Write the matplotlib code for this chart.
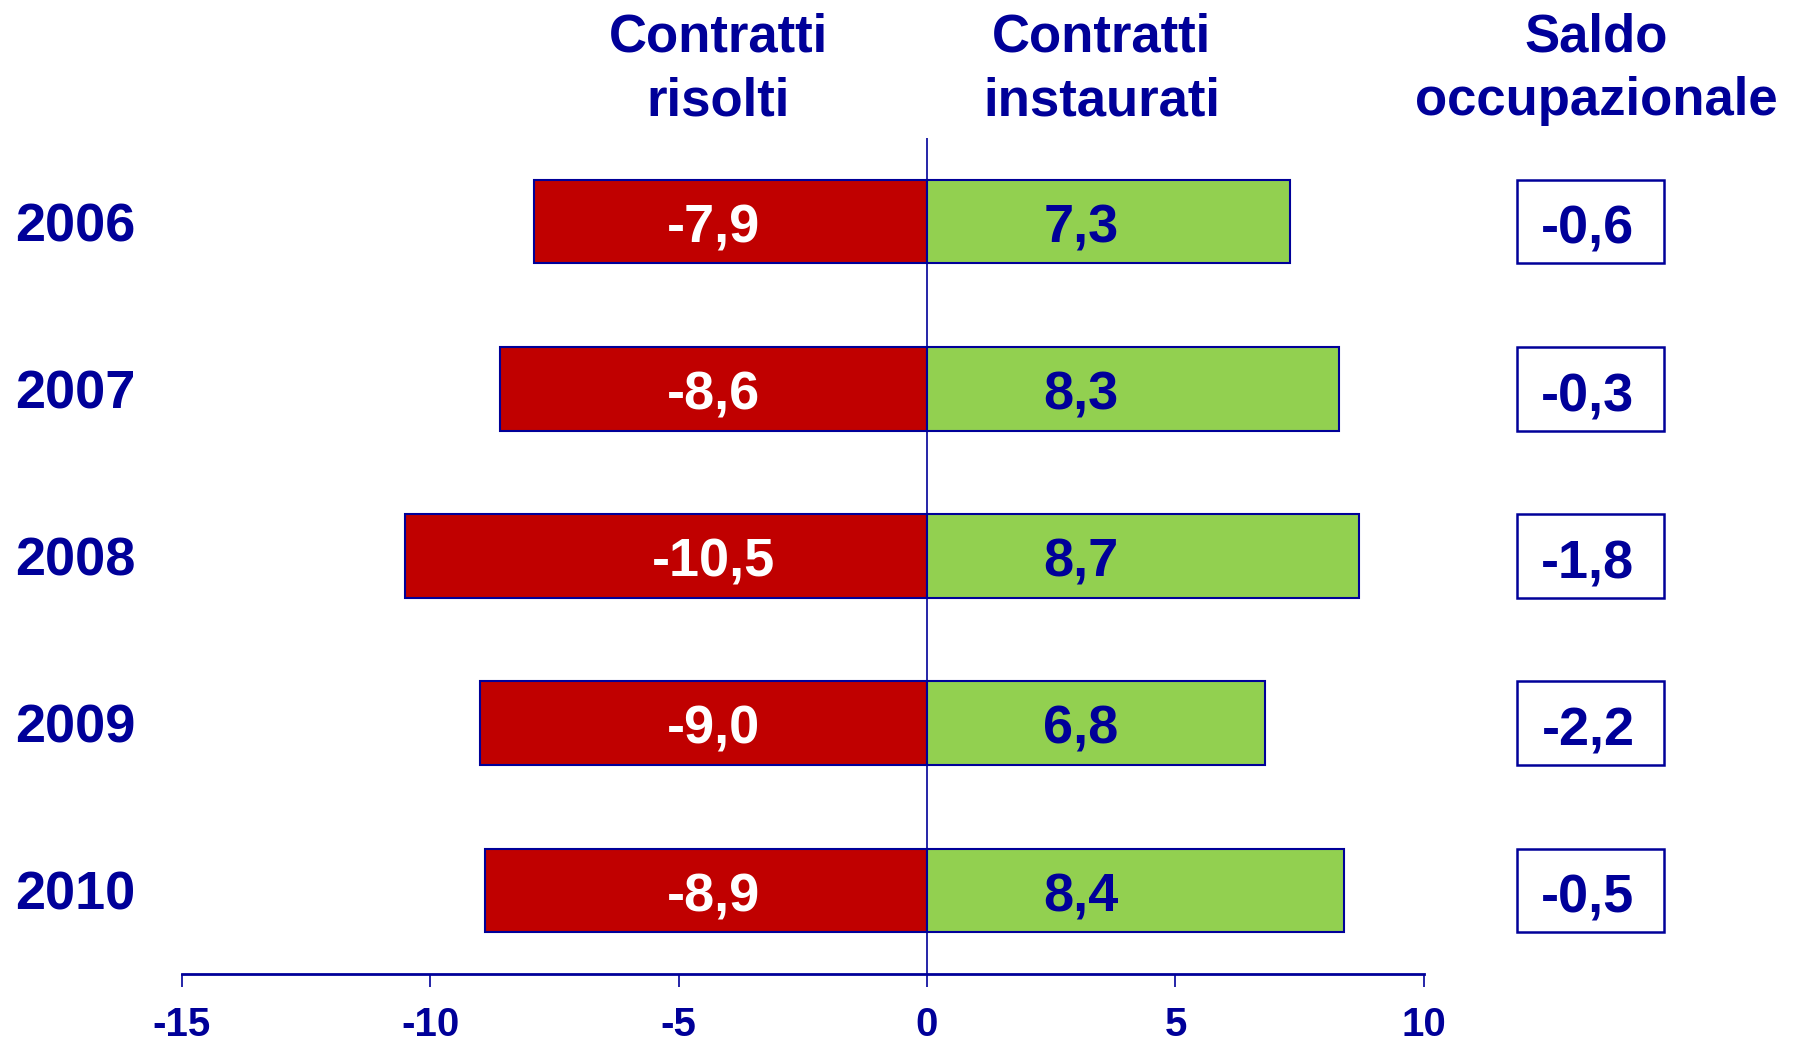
import matplotlib.pyplot as plt
from matplotlib.patches import Rectangle

plt.rcParams['font.family'] = ['Liberation Sans', 'DejaVu Sans']
plt.rcParams['font.weight'] = 'bold'

anni = ['2006', '2007', '2008', '2009', '2010']
risolti = [-7.9, -8.6, -10.5, -9.0, -8.9]
instaurati = [7.3, 8.3, 8.7, 6.8, 8.4]
saldo = [-0.6, -0.3, -1.8, -2.2, -0.5]

blu = '#000099'
rosso = '#C00000'
verde = '#92D050'


def fmt(v):
	return ('%.1f' % v).replace('.', ',')


fig = plt.figure(figsize=(18.02, 10.42), dpi=100)
ax = fig.add_axes([0.1008, 0.0653, 0.6894, 0.8023])

pos = list(range(len(anni)))
ax.barh(pos, risolti, height=0.5, color=rosso, edgecolor=blu, linewidth=1.5)
ax.barh(pos, instaurati, height=0.5, color=verde, edgecolor=blu, linewidth=1.5)
ax.axvline(0, color=blu, linewidth=1.2)

for i in pos:
	ax.text(-4.3, i + 0.04, fmt(risolti[i]), ha='center', va='center',
		color='white', fontsize=39, fontweight='bold')
	ax.text(3.1, i + 0.04, fmt(instaurati[i]), ha='center', va='center',
		color=blu, fontsize=39, fontweight='bold')
	ax.add_patch(Rectangle((11.88, i - 0.25), 2.95, 0.5, fill=False,
		edgecolor=blu, linewidth=1.8, clip_on=False))
	ax.text(13.3, i + 0.05, fmt(saldo[i]), ha='center', va='center',
		color=blu, fontsize=39, fontweight='bold', clip_on=False)

# intestazioni
for x, t in [(-4.2, 'Contratti\nrisolti'), (3.52, 'Contratti\ninstaurati'),
		(13.47, 'Saldo\noccupazionale')]:
	ax.text(x, -0.91, t, ha='center', va='center', color=blu,
		fontsize=38, fontweight='bold', linespacing=1.36, clip_on=False)

ax.set_xlim(-15, 10)
ax.set_ylim(4.5, -0.5)
ax.set_xticks([-15, -10, -5, 0, 5, 10])
ax.set_xticklabels(['-15', '-10', '-5', '0', '5', '10'])
ax.tick_params(axis='x', colors=blu, direction='out', length=9, width=1.2,
	pad=14, labelsize=29)
for lab in ax.get_xticklabels():
	lab.set_fontweight('bold')

ax.set_yticks(pos)
ax.set_yticklabels(anni)
ax.tick_params(axis='y', length=0, labelsize=39, labelcolor=blu)
for lab in ax.get_yticklabels():
	lab.set_fontweight('bold')
	lab.set_horizontalalignment('left')
ax.yaxis.set_tick_params(pad=120)

for s in ['top', 'right', 'left']:
	ax.spines[s].set_visible(False)
ax.spines['bottom'].set_color(blu)
ax.spines['bottom'].set_linewidth(2)

fig.savefig('out.png', dpi=100)
